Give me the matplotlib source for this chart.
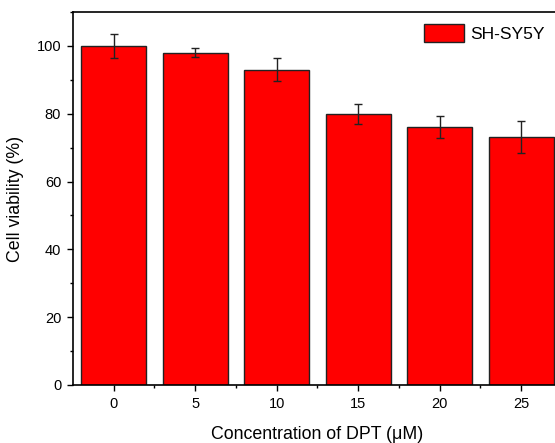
import numpy as np
import matplotlib
matplotlib.use("Agg")
import matplotlib.pyplot as plt
from matplotlib.ticker import MultipleLocator

# data
concentrations = ["0", "5", "10", "15", "20", "25"]
viability = [100.0, 98.0, 93.0, 80.0, 76.0, 73.1]
viability_err = [3.6, 1.3, 3.3, 3.0, 3.2, 4.7]
series_name = "SH-SY5Y"

plt.rcParams['font.family'] = ['Liberation Sans', 'DejaVu Sans']

fig = plt.figure(figsize=(5.55, 4.43), dpi=100)
# axes runs past the right edge, as in the reference crop
ax = fig.add_axes([0.1315, 0.131, 0.881, 0.842])

x = np.arange(len(concentrations))
ax.bar(x, viability, width=0.8, color='#ff0000', edgecolor='#222222',
       linewidth=1.0, label=series_name, zorder=2)
ax.errorbar(x, viability, yerr=viability_err, fmt='none', ecolor='#222222',
            elinewidth=1.0, capsize=3, capthick=1.0, zorder=3)

ax.set_xlim(-0.5, len(concentrations) - 0.5)
ax.set_ylim(0, 110)
ax.set_xticks(x)
ax.set_xticklabels(concentrations)
ax.set_xticks(x[:-1] + 0.5, minor=True)
ax.yaxis.set_major_locator(MultipleLocator(20))
ax.yaxis.set_minor_locator(MultipleLocator(10))

ax.tick_params(axis='both', which='major', direction='out', length=4.5,
               width=1.0, labelsize=10.5, pad=4)
ax.tick_params(axis='both', which='minor', direction='out', length=2.5, width=1.0)

for side in ['left', 'bottom', 'top', 'right']:
    ax.spines[side].set_linewidth(1.2)

ax.set_xlabel("Concentration of DPT (μM)", fontsize=12.8, labelpad=11)
ax.set_ylabel("Cell viability (%)", fontsize=12.8, labelpad=9)

ax.legend(loc='upper right', bbox_to_anchor=(0.99, 1.0), frameon=False,
          fontsize=12.6, handlelength=2.3, handleheight=1.2, handletextpad=0.35,
          borderaxespad=0.3)

fig.savefig("out.png", dpi=100)
